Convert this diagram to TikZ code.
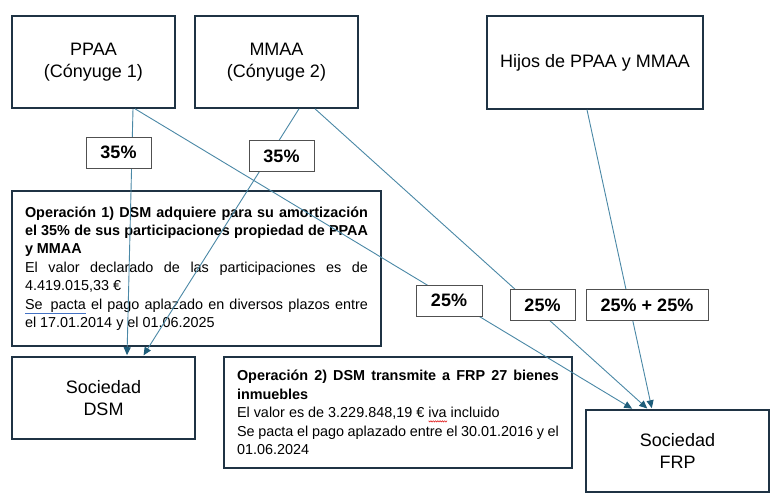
\documentclass[tikz,border=0pt]{standalone}
\usepackage{fontspec}
\setmainfont{Liberation Sans}
\usetikzlibrary{arrows.meta}
\definecolor{boxcol}{HTML}{1F3344}
\definecolor{labcol}{HTML}{505050}
\definecolor{linecol}{HTML}{4A88A6}
\definecolor{headcol}{HTML}{1E5D7A}
\definecolor{spellblue}{HTML}{4472C4}
\definecolor{wavered}{HTML}{E02020}
\setlength{\parindent}{0pt}
\newcommand{\subrayado}[1]{{\color{spellblue}\underline{\color{black}#1}}}
\newcommand{\ondulado}[1]{\rlap{\tikz[baseline=0pt]\draw[wavered,line width=0.6pt]
	(0pt,-3pt) \foreach \k in {0,...,7} {--({(\k+0.5)*2.3pt},-4.3pt) --({(\k+1)*2.3pt},-3pt)};}#1}
\tikzset{
	caja/.style={draw=boxcol,line width=1.6pt,align=center,inner sep=0pt,
		font=\fontsize{18}{22.5}\selectfont},
	nota/.style={draw=boxcol,line width=1.6pt,align=justify,inner xsep=13pt,inner ysep=0pt,
		font=\fontsize{14.4}{18.4}\selectfont},
	pct/.style={draw=labcol,line width=1pt,fill=white,inner sep=0pt,minimum height=31pt,
		font=\fontsize{18}{22}\selectfont\bfseries},
	flujo/.style={draw=linecol,line width=0.9pt,shorten >=1pt,
		-{Triangle[length=8pt,width=7pt,color=headcol]}}
}
\begin{document}
\begin{tikzpicture}[x=1pt,y=-1pt]
	\fill[white](0,0) rectangle (778,495);
	% socios y sociedades
	\node[caja,minimum width=163pt,minimum height=92pt](ppaa) at (93.5,62) {PPAA\\(Cónyuge 1)};
	\node[caja,minimum width=163pt,minimum height=92pt](mmaa) at (276.5,62) {MMAA\\(Cónyuge 2)};
	\node[caja,minimum width=216pt,minimum height=93pt](hijos) at (595,62.5) {Hijos de PPAA y MMAA};
	\node[caja,minimum width=183pt,minimum height=82pt](dsm) at (103.5,398) {Sociedad\\DSM};
	\node[caja,minimum width=183pt,minimum height=82pt](frp) at (677.5,451) {Sociedad\\FRP};
	% operaciones
	\node[nota,text width=343pt,minimum height=155pt](op1) at (196.5,268.5) {%
		\textbf{Operación 1) DSM adquiere para su amortización\linebreak
		el 35\% de sus participaciones propiedad de PPAA\linebreak y MMAA}\\
		El valor declarado de las participaciones es de\linebreak 4.419.015,33 €\\
		\subrayado{Se\ \ pacta} el pago aplazado en diversos plazos entre\linebreak
		el 17.01.2014 y el 01.06.2025};
	\node[nota,text width=322pt,minimum height=111pt](op2) at (398,412.5) {%
		\textbf{Operación 2) DSM transmite a FRP 27 bienes\linebreak inmuebles}\\
		El valor es de 3.229.848,19 € \ondulado{iva} incluido\\
		Se pacta el pago aplazado entre el 30.01.2016 y el\linebreak 01.06.2024};
	% participaciones
	\draw[flujo]([xshift=39.5pt]ppaa.south) --([xshift=23.5pt]dsm.north);
	\draw[flujo]([xshift=22.5pt]mmaa.south) --([xshift=39.5pt]dsm.north);
	\draw[flujo]([xshift=41.5pt]ppaa.south) --([xshift=-44.5pt]frp.north);
	\draw[flujo]([xshift=38.5pt]mmaa.south) --([xshift=-29.5pt]frp.north);
	\draw[flujo]([xshift=-8pt]hijos.south) --([xshift=-25.5pt]frp.north);
	\foreach \n/\x/\y/\w/\t in {a/118.5/152.5/65/35\%, b/281.5/156/65/35\%,
		c/449/300.5/66/25\%, d/542.5/305/65/25\%, e/647/305/122/25\% + 25\%} {
		\node[pct,minimum width=\w pt](pct\n) at (\x,\y) {\t};
	}
\end{tikzpicture}
\end{document}
